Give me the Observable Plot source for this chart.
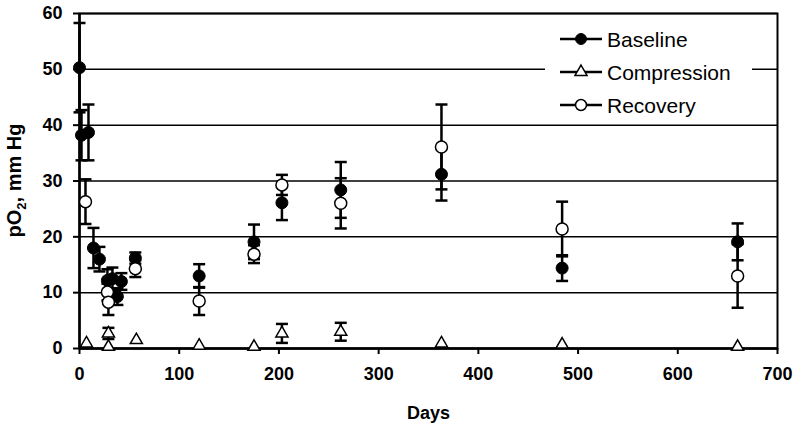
<!DOCTYPE html>
<html><head><meta charset="utf-8">
<script src="https://cdn.jsdelivr.net/npm/d3@7"></script>
<script src="https://cdn.jsdelivr.net/npm/@observablehq/plot@0.6"></script>
<style>
body{margin:0;background:#fff;}
#chart{position:relative;width:800px;height:432px;font-family:"Liberation Sans",Arial,sans-serif;}
#legend{position:absolute;left:545px;top:16px;width:207px;height:104px;background:#fff;}
</style></head><body><div id="chart"><div id="legend"></div></div>
<script>
// Data
const baselineDays = [0, 2, 9, 14, 20, 28, 33, 38, 42, 56, 120, 175, 203, 262, 363, 484, 660];
const baselineMean = [50.3, 38.2, 38.7, 18.0, 16.0, 12.2, 12.5, 9.3, 12.0, 16.2, 13.0, 19.1, 26.1, 28.4, 31.2, 14.4, 19.1];
const baselineErr  = [8, 4.5, 5, 3.6, 2.2, 2, 2, 1.5, 1.5, 1, 2.1, 3.1, 3.1, 5, 4.7, 2.3, 3.3];

const compressionDays = [7, 29, 29, 57, 120, 175, 203, 262, 363, 484, 660];
const compressionMean = [0.9, 2.7, 0.3, 1.5, 0.5, 0.3, 2.7, 3.0, 0.9, 0.7, 0.3];
const compressionErr  = [0, 1, 0, 0, 0, 0, 1.7, 1.6, 0, 0, 0];

const recoveryDays = [6, 28, 29, 56, 120, 175, 203, 262, 363, 484, 660];
const recoveryMean = [26.3, 10.1, 8.3, 14.3, 8.5, 16.9, 29.3, 26.0, 36.1, 21.4, 13.0];
const recoveryErr  = [4, 1.5, 2.3, 1.5, 2.5, 1.6, 1.8, 4.5, 7.6, 4.9, 5.7];

const xTicks = [0, 100, 200, 300, 400, 500, 600, 700];
const yTicks = [0, 10, 20, 30, 40, 50, 60];
const seriesNames = ["Baseline", "Compression", "Recovery"];

const toRows = (days, mean, err) => days.map((d, i) => ({d, v: mean[i], e: err[i]}));
const B = toRows(baselineDays, baselineMean, baselineErr);
const C = toRows(compressionDays, compressionMean, compressionErr);
const R = toRows(recoveryDays, recoveryMean, recoveryErr);
const errRows = [...B, ...C, ...R].filter(p => p.e > 0);
const capRows = errRows.flatMap(p => [{d: p.d, y: p.v + p.e}, {d: p.d, y: p.v - p.e}]);

const capSymbol = {draw(ctx, size) { const w = Math.sqrt(size / Math.PI); ctx.moveTo(-w, 0); ctx.lineTo(w, 0); }};

const plot = Plot.plot({
  width: 800, height: 432,
  marginLeft: 79, marginRight: 23, marginTop: 13, marginBottom: 84,
  x: {domain: [0, 700]},
  y: {domain: [0, 60]},
  style: {fontFamily: "'Liberation Sans', Arial, sans-serif", background: "white", color: "black"},
  marks: [
    Plot.gridY(yTicks, {stroke: "black", strokeOpacity: 1, strokeWidth: 1.5}),
    Plot.frame({stroke: "black", strokeWidth: 2}),
    Plot.ruleX([0], {stroke: "black", strokeWidth: 2.5}),
    Plot.ruleY([0], {stroke: "black", strokeWidth: 2.5}),
    Plot.axisX(xTicks, {tickSize: 6, tickPadding: 13, fontSize: 18, fontWeight: "bold", strokeWidth: 2,
      label: "Days", labelAnchor: "center", labelArrow: "none", labelOffset: 70}),
    Plot.axisY(yTicks, {tickSize: 6, tickPadding: 11, fontSize: 18, fontWeight: "bold", strokeWidth: 2, label: null}),
    Plot.ruleX(errRows, {x: "d", y1: d => d.v - d.e, y2: d => d.v + d.e, stroke: "black", strokeWidth: 2.5}),
    Plot.dot(capRows, {x: "d", y: "y", symbol: capSymbol, r: 6, fill: "none", stroke: "black", strokeWidth: 2.5}),
    Plot.dot(B, {x: "d", y: "v", r: 6, fill: "black", stroke: "black", strokeWidth: 1}),
    Plot.dot(C, {x: "d", y: "v", r: 4.5, symbol: "triangle", fill: "white", stroke: "black", strokeWidth: 1.5}),
    Plot.dot(R, {x: "d", y: "v", r: 6, fill: "white", stroke: "black", strokeWidth: 1.5})
  ]
});
const chart = document.getElementById("chart");
chart.insertBefore(plot, chart.firstChild);

// y-axis title with subscript
const svg = d3.select(plot);
const t = svg.append("text")
  .attr("transform", "translate(21,180.5) rotate(-90)")
  .attr("text-anchor", "middle")
  .attr("font-size", 20).attr("font-weight", "bold").attr("fill", "black");
t.append("tspan").text("pO");
t.append("tspan").attr("font-size", 13).attr("dy", 5).text("2");
t.append("tspan").attr("dy", -5).text(", mm Hg");

// legend
const lg = d3.select("#legend").append("svg").attr("width", 207).attr("height", 104);
const symbols = [
  {sym: d3.symbolCircle, size: Math.PI * 30, fill: "black", sw: 1},
  {sym: d3.symbolTriangle, size: Math.PI * 20, fill: "white", sw: 1.5},
  {sym: d3.symbolCircle, size: Math.PI * 30, fill: "white", sw: 1.5}
];
seriesNames.forEach((name, i) => {
  const cy = 23 + i * 33;
  const g = lg.append("g").attr("transform", `translate(0,${cy})`);
  g.append("line").attr("x1", 15).attr("x2", 57).attr("stroke", "black").attr("stroke-width", 2.5);
  g.append("path").attr("transform", "translate(36,0)")
    .attr("d", d3.symbol(symbols[i].sym, symbols[i].size)())
    .attr("fill", symbols[i].fill).attr("stroke", "black").attr("stroke-width", symbols[i].sw);
  g.append("text").attr("x", 62).attr("y", 7.5).attr("font-size", 21)
    .attr("font-family", "'Liberation Sans', Arial, sans-serif").attr("fill", "black").text(name);
});
</script></body></html>
